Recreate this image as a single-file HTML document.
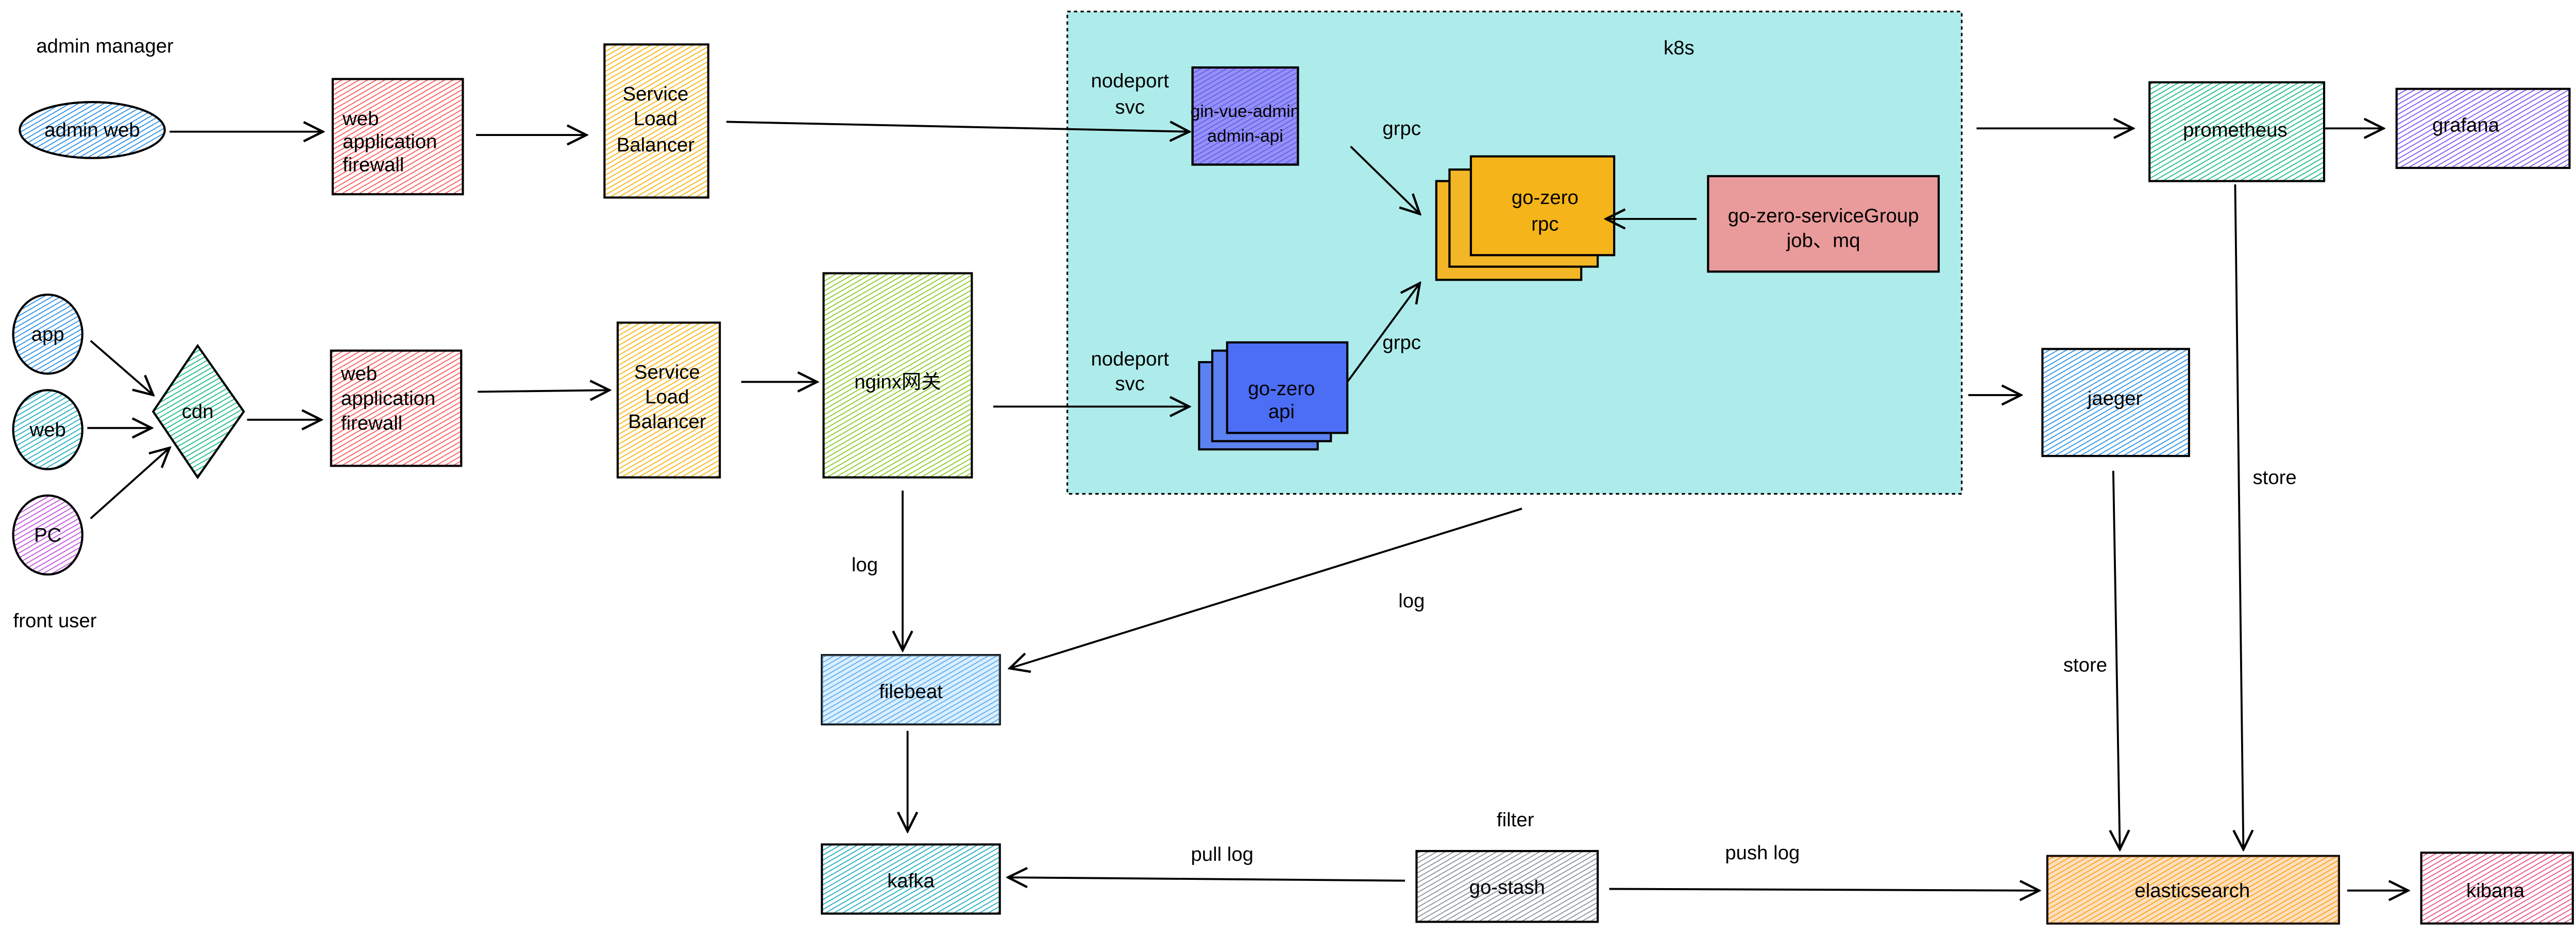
<!DOCTYPE html>
<html><head><meta charset="utf-8"><style>
html,body{margin:0;padding:0;background:#fff;}
svg{display:block;}
text{font-family:"Liberation Sans","Noto Sans CJK SC",sans-serif;font-size:12px;fill:#000;}
</style></head><body>
<svg width="5013" height="1815" viewBox="0 0 1568 568" preserveAspectRatio="none" xmlns="http://www.w3.org/2000/svg">
<defs>
<marker id="a" viewBox="0 0 12 12" refX="11" refY="6" markerWidth="14" markerHeight="14" markerUnits="userSpaceOnUse" orient="auto">
<path d="M1,1 L11,6 L1,11" fill="none" stroke="#000" stroke-width="1.2"/></marker>
<pattern id="pRed" width="2.6" height="2.6" patternUnits="userSpaceOnUse" patternTransform="rotate(60)"><line x1="0" y1="0" x2="0" y2="3" stroke="#fa5252" stroke-width="1.1"/></pattern>
<pattern id="pOr" width="2.6" height="2.6" patternUnits="userSpaceOnUse" patternTransform="rotate(60)"><line x1="0" y1="0" x2="0" y2="3" stroke="#fab005" stroke-width="1.1"/></pattern>
<pattern id="pGreen" width="2.6" height="2.6" patternUnits="userSpaceOnUse" patternTransform="rotate(60)"><line x1="0" y1="0" x2="0" y2="3" stroke="#82c91e" stroke-width="1.1"/></pattern>
<pattern id="pBlue" width="2.6" height="2.6" patternUnits="userSpaceOnUse" patternTransform="rotate(60)"><line x1="0" y1="0" x2="0" y2="3" stroke="#228be6" stroke-width="1.1"/></pattern>
<pattern id="pTeal" width="2.6" height="2.6" patternUnits="userSpaceOnUse" patternTransform="rotate(60)"><line x1="0" y1="0" x2="0" y2="3" stroke="#12b886" stroke-width="1.1"/></pattern>
<pattern id="pCyan" width="2.6" height="2.6" patternUnits="userSpaceOnUse" patternTransform="rotate(60)"><line x1="0" y1="0" x2="0" y2="3" stroke="#15aabf" stroke-width="1.1"/></pattern>
<pattern id="pPur" width="2.6" height="2.6" patternUnits="userSpaceOnUse" patternTransform="rotate(60)"><line x1="0" y1="0" x2="0" y2="3" stroke="#7950f2" stroke-width="1.1"/></pattern>
<pattern id="pPink" width="2.6" height="2.6" patternUnits="userSpaceOnUse" patternTransform="rotate(60)"><line x1="0" y1="0" x2="0" y2="3" stroke="#e64980" stroke-width="1.1"/></pattern>
<pattern id="pGray" width="2.6" height="2.6" patternUnits="userSpaceOnUse" patternTransform="rotate(60)"><line x1="0" y1="0" x2="0" y2="3" stroke="#868e96" stroke-width="1.1"/></pattern>
<pattern id="pMag" width="2.6" height="2.6" patternUnits="userSpaceOnUse" patternTransform="rotate(60)"><line x1="0" y1="0" x2="0" y2="3" stroke="#be4bdb" stroke-width="1.1"/></pattern>
</defs>

<rect x="648" y="7" width="543" height="293" fill="#aeeceb" stroke="#000" stroke-width="1" stroke-dasharray="2,2"/>
<text x="1010" y="33">k8s</text>

<g stroke="#000" stroke-width="1.3">
<ellipse cx="56" cy="79" rx="44" ry="17" fill="url(#pBlue)"/>
<rect x="202" y="48" width="79" height="70" fill="url(#pRed)"/>
<rect x="367" y="27" width="63" height="93" fill="url(#pOr)"/>
<rect x="724" y="41" width="64" height="59" fill="#8f94f5"/>
<rect x="724" y="41" width="64" height="59" fill="url(#pPur)"/>
<rect x="872" y="110" width="88" height="60" fill="#f2b626"/>
<rect x="880" y="103" width="90" height="59" fill="#f2b626"/>
<rect x="893" y="95" width="87" height="60" fill="#f5b41a"/>
<rect x="1037" y="107" width="140" height="58" fill="#e99a9a"/>
<rect x="728" y="220" width="72" height="53" fill="#5b82f0"/>
<rect x="736" y="213" width="72" height="55" fill="#5b82f0"/>
<rect x="745" y="208" width="73" height="55" fill="#4c6ef5"/>
<rect x="1305" y="50" width="106" height="60" fill="url(#pTeal)"/>
<rect x="1455" y="54" width="105" height="48" fill="url(#pPur)"/>
<rect x="1240" y="212" width="89" height="65" fill="url(#pBlue)"/>
<rect x="1243" y="520" width="177" height="41" fill="url(#pOr)"/>
<rect x="1243" y="520" width="177" height="41" fill="#fd7e14" fill-opacity="0.25" stroke="none"/>
<rect x="1470" y="518" width="92" height="43" fill="url(#pPink)"/>
<ellipse cx="29" cy="203" rx="21" ry="24" fill="url(#pBlue)"/>
<ellipse cx="29" cy="261" rx="21" ry="24" fill="url(#pCyan)"/>
<ellipse cx="29" cy="325" rx="21" ry="24" fill="url(#pMag)"/>
<path d="M120,210 L148,250 L120,290 L93,250 Z" fill="url(#pTeal)"/>
<rect x="201" y="213" width="79" height="70" fill="url(#pRed)"/>
<rect x="375" y="196" width="62" height="94" fill="url(#pOr)"/>
<rect x="500" y="166" width="90" height="124" fill="url(#pGreen)"/>
<rect x="499" y="398" width="108" height="42" fill="url(#pBlue)"/>
<rect x="499" y="398" width="108" height="42" fill="#a5d8ff" fill-opacity="0.4" stroke="none"/>
<rect x="499" y="513" width="108" height="42" fill="url(#pCyan)"/>
<rect x="860" y="517" width="110" height="43" fill="url(#pGray)"/>
</g>

<g stroke="#000" stroke-width="1.2" fill="none" marker-end="url(#a)">
<line x1="103" y1="80" x2="196" y2="80"/>
<line x1="289" y1="82" x2="356" y2="82"/>
<line x1="441" y1="74" x2="722" y2="80"/>
<line x1="820" y1="89" x2="862" y2="130"/>
<line x1="1030" y1="133" x2="975" y2="133"/>
<line x1="818" y1="232" x2="862" y2="172"/>
<line x1="603" y1="247" x2="722" y2="247"/>
<line x1="1200" y1="78" x2="1295" y2="78"/>
<line x1="1411" y1="78" x2="1447" y2="78"/>
<line x1="1195" y1="240" x2="1227" y2="240"/>
<line x1="1357" y1="112" x2="1362" y2="516"/>
<line x1="1283" y1="286" x2="1287" y2="516"/>
<line x1="1425" y1="541" x2="1462" y2="541"/>
<line x1="55" y1="207" x2="93" y2="240"/>
<line x1="53" y1="260" x2="92" y2="260"/>
<line x1="55" y1="315" x2="103" y2="272"/>
<line x1="150" y1="255" x2="195" y2="255"/>
<line x1="290" y1="238" x2="370" y2="237"/>
<line x1="450" y1="232" x2="496" y2="232"/>
<line x1="548" y1="298" x2="548" y2="395"/>
<line x1="924" y1="309" x2="613" y2="406"/>
<line x1="551" y1="444" x2="551" y2="505"/>
<line x1="853" y1="535" x2="612" y2="533"/>
<line x1="977" y1="540" x2="1238" y2="541"/>
</g>

<text x="22" y="32">admin manager</text>
<text x="8" y="381">front user</text>
<text x="56" y="83" text-anchor="middle">admin web</text>
<text x="208" y="76">web</text><text x="208" y="90">application</text><text x="208" y="104">firewall</text>
<text x="207" y="231">web</text><text x="207" y="246">application</text><text x="207" y="261">firewall</text>
<g text-anchor="middle">
<text x="398" y="61">Service</text><text x="398" y="76">Load</text><text x="398" y="92">Balancer</text>
<text x="405" y="230">Service</text><text x="405" y="245">Load</text><text x="405" y="260">Balancer</text>
<text x="686" y="53">nodeport</text><text x="686" y="69">svc</text>
<text x="686" y="222">nodeport</text><text x="686" y="237">svc</text>
<text x="756" y="71" style="font-size:10.5px">gin-vue-admin</text><text x="756" y="86" style="font-size:10.5px">admin-api</text>
<text x="938" y="124">go-zero</text><text x="938" y="140">rpc</text>
<text x="1107" y="135">go-zero-serviceGroup</text><text x="1107" y="150">job、mq</text>
<text x="778" y="240">go-zero</text><text x="778" y="254">api</text>
<text x="1357" y="83">prometheus</text>
<text x="1497" y="80">grafana</text>
<text x="1284" y="246">jaeger</text>
<text x="1331" y="545">elasticsearch</text>
<text x="1515" y="545">kibana</text>
<text x="29" y="207">app</text>
<text x="29" y="265">web</text>
<text x="29" y="329">PC</text>
<text x="120" y="254">cdn</text>
<text x="545" y="236">nginx网关</text>
<text x="553" y="424">filebeat</text>
<text x="553" y="539">kafka</text>
<text x="915" y="543">go-stash</text>
<text x="920" y="502">filter</text>
<text x="742" y="523">pull log</text>
<text x="1070" y="522">push log</text>
<text x="525" y="347">log</text>
<text x="857" y="369">log</text>
<text x="851" y="82">grpc</text>
<text x="851" y="212">grpc</text>
<text x="1381" y="294">store</text>
<text x="1266" y="408">store</text>
</g>
</svg>
</body></html>
